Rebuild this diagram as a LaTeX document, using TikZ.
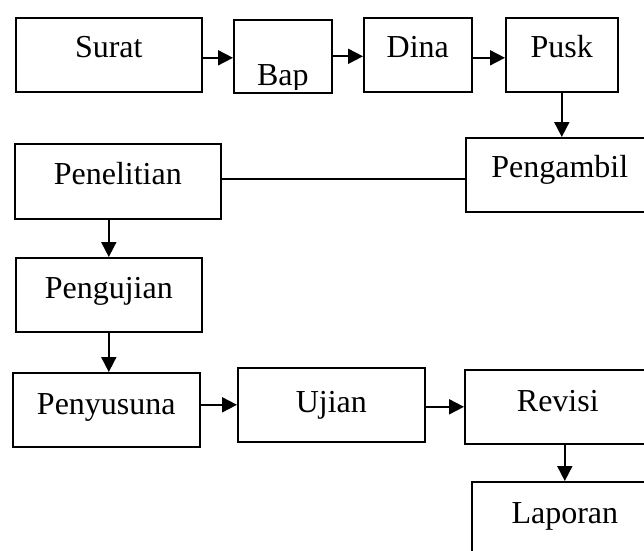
\documentclass[tikz,border=0pt]{standalone}
\usepackage{fontspec}
\setmainfont{Liberation Serif}
\usetikzlibrary{arrows.meta,positioning}
\begin{document}
\begin{tikzpicture}[x=1pt, y=-1pt, line join=miter,
  box/.style={draw, line width=1.6pt, inner sep=0pt, anchor=north west},
  lbl/.style={anchor=base, inner sep=0pt, font=\fontsize{32}{38}\selectfont},
  arr/.style={line width=1.9pt, -{Triangle[length=15pt, width=15pt]}}]
\clip (0,0) rectangle (644,550);
% first row
\node[box, minimum width=186pt, minimum height=74pt] (surat) at (15,17) {};
\node[box, minimum width=98pt, minimum height=73pt] (bap) at (233,19) {};
\node[box, minimum width=108pt, minimum height=74pt] (dina) at (363,17) {};
\node[box, minimum width=112pt, minimum height=74pt] (pusk) at (505,17) {};
\node[lbl] (suratT) at ([yshift=-40pt]surat.north) {Surat};
\begin{scope}
\clip (233,19) rectangle (331,89);
\node[lbl] (bapT) at ([yshift=-66pt]bap.north) {Bap};
\end{scope}
\node[lbl] (dinaT) at ([yshift=-40pt]dina.north) {Dina};
\node[lbl] (puskT) at ([yshift=-40pt]pusk.north) {Pusk};
% second row
\node[box, minimum width=188pt, minimum height=74pt] (pengambil) at (465,137) {};
\node[box, minimum width=206pt, minimum height=75pt] (penelitian) at (14,143) {};
\node[lbl] (pengambilT) at ([yshift=-40pt]pengambil.north) {Pengambil};
\node[lbl] (penelitianT) at ([yshift=-41pt]penelitian.north) {Penelitian};
\node[box, minimum width=186pt, minimum height=74pt] (pengujian) at (15,257) {};
\node[lbl] (pengujianT) at ([yshift=-41pt]pengujian.north) {Pengujian};
% third row
\node[box, minimum width=187pt, minimum height=74pt] (penyusunan) at (12,372) {};
\node[box, minimum width=187pt, minimum height=74pt] (ujian) at (237,367) {};
\node[box, minimum width=186pt, minimum height=74pt] (revisi) at (464,369) {};
\node[box, minimum width=186pt, minimum height=80pt] (laporan) at (471,481) {};
\node[lbl] (penyusunanT) at ([yshift=-42pt]penyusunan.north) {Penyusuna};
\node[lbl] (ujianT) at ([yshift=-45pt]ujian.north) {Ujian};
\node[lbl] (revisiT) at ([yshift=-42pt]revisi.north) {Revisi};
\node[lbl] (laporanT) at ([yshift=-42pt]laporan.north) {Laporan};
% connectors
\draw[arr] ([yshift=-3pt]surat.east) -- ([yshift=-3pt]surat.east -| bap.west);
\draw[arr] (bap.east) -- (bap.east -| dina.west);
\draw[arr] ([yshift=-3pt]dina.east) -- ([yshift=-3pt]dina.east -| pusk.west);
\draw[arr] (pusk.south) -- (pusk.south |- pengambil.north);
\draw[line width=1.6pt] ([yshift=2.5pt]penelitian.east) -- ([yshift=2.5pt]penelitian.east -| pengambil.west);
\draw[arr] (pengujian.north |- penelitian.south) -- (pengujian.north);
\draw[arr] (pengujian.south) -- (pengujian.south |- penyusunan.north);
\draw[arr] (ujian.west -| penyusunan.east) -- (ujian.west);
\draw[arr] (revisi.west -| ujian.east) -- (revisi.west);
\draw[arr] (laporan.north |- revisi.south) -- (laporan.north);
\end{tikzpicture}
\end{document}
